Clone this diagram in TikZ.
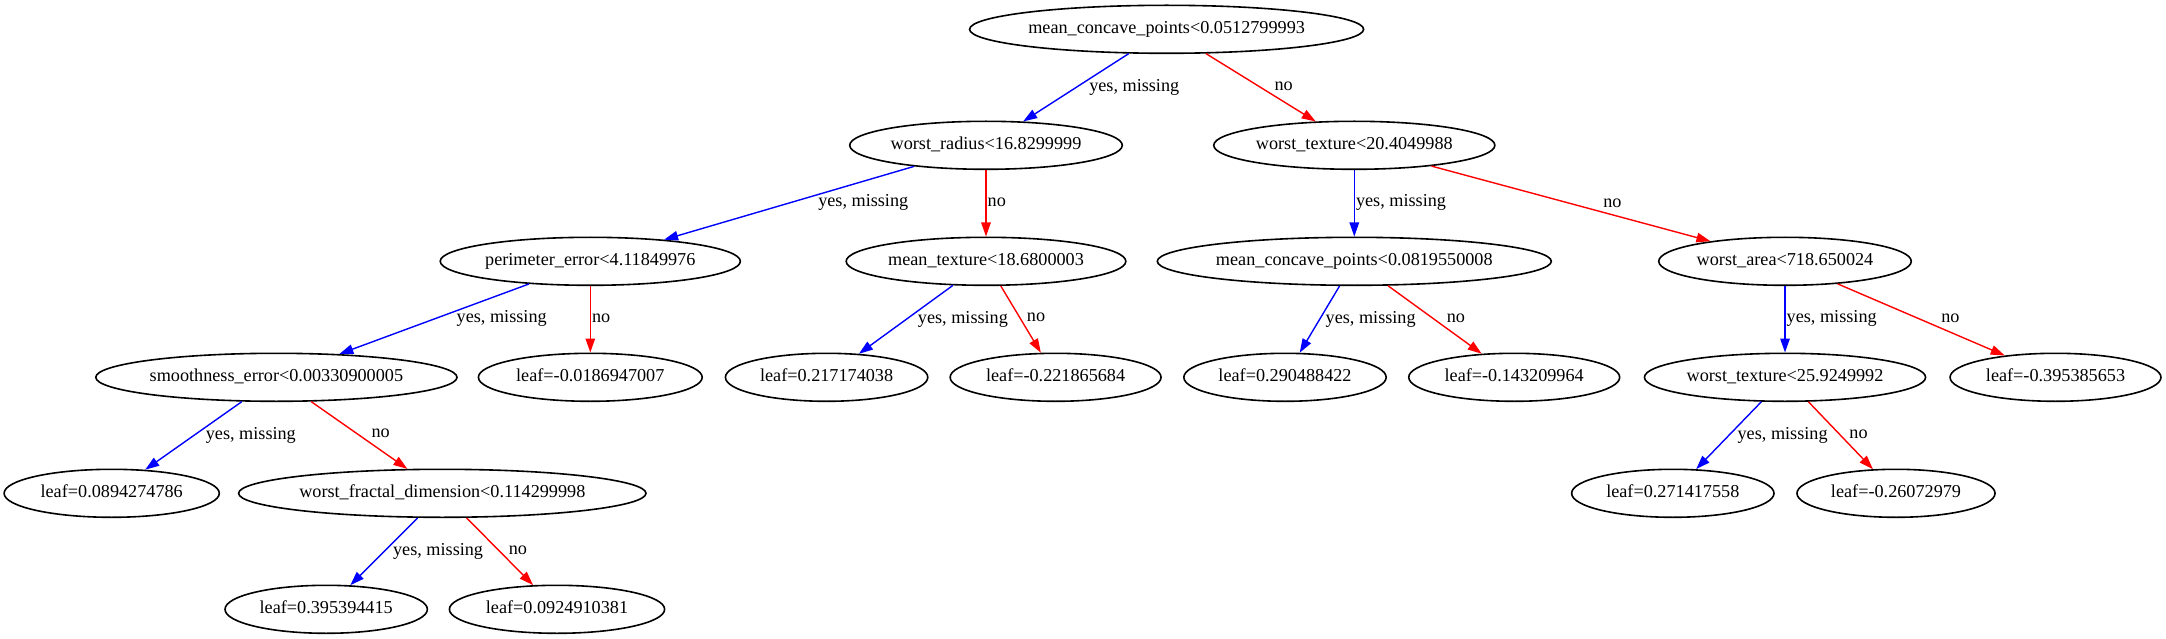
\documentclass[tikz,border=0pt]{standalone}
\usepackage{fontspec}
\setmainfont{Liberation Serif}
\usepackage{tikz}
\usetikzlibrary{arrows.meta, shapes.geometric}
\definecolor{yesblue}{RGB}{0,0,255}
\definecolor{nored}{RGB}{255,0,0}

\begin{document}
\begin{tikzpicture}[x=1pt, y=-1pt, font=\fontsize{18.2}{22}\selectfont,
  split/.style={draw, ellipse, line width=1.6pt, minimum height=48pt, inner xsep=1pt, inner ysep=2pt, text height=12.5pt, text depth=4pt},
  leafnode/.style={split, inner xsep=5pt},
  yesedge/.style={draw=yesblue, line width=1.4pt, -{Triangle[length=14pt, width=9.5pt]}},
  noedge/.style={draw=nored, line width=1.4pt, -{Triangle[length=14pt, width=9.5pt]}},
  lab/.style={auto, text=black, inner sep=1pt, text height=10pt, text depth=3pt},
  ylab/.style={lab, pos=0.39},
  nlab/.style={lab, pos=0.61}]
  \useasboundingbox (0,0) rectangle (2166,639);

  % splits
  \node[split] (root) at (1166.6, 29.3) {mean\_concave\_points<0.0512799993};
  \node[split] (wrad) at (986, 145.3) {worst\_radius<16.8299999};
  \node[split] (wtex) at (1354.3, 145.3) {worst\_texture<20.4049988};
  \node[split] (perr) at (590.3, 261.3) {perimeter\_error<4.11849976};
  \node[split] (mtex) at (986, 261.3) {mean\_texture<18.6800003};
  \node[split] (mcp) at (1354.3, 261.3) {mean\_concave\_points<0.0819550008};
  \node[split] (warea) at (1785, 261.3) {worst\_area<718.650024};
  \node[split] (smooth) at (276.4, 377.3) {smoothness\_error<0.00330900005};
  \node[split] (wtexb) at (1785, 377.3) {worst\_texture<25.9249992};
  \node[split] (wfrac) at (442.3, 493.3) {worst\_fractal\_dimension<0.114299998};

  % leaves
  \node[leafnode] (leafa) at (590.3, 377.3) {leaf=-0.0186947007};
  \node[leafnode] (leafb) at (826.6, 377.3) {leaf=0.217174038};
  \node[leafnode] (leafc) at (1055.6, 377.3) {leaf=-0.221865684};
  \node[leafnode] (leafd) at (1285, 377.3) {leaf=0.290488422};
  \node[leafnode] (leafe) at (1514.2, 377.3) {leaf=-0.143209964};
  \node[leafnode] (leaff) at (2055.5, 377.3) {leaf=-0.395385653};
  \node[leafnode] (leafg) at (111.7, 493.3) {leaf=0.0894274786};
  \node[leafnode] (leafh) at (1672.8, 493.3) {leaf=0.271417558};
  \node[leafnode] (leafi) at (1896, 493.3) {leaf=-0.26072979};
  \node[leafnode] (leafj) at (326.2, 609.3) {leaf=0.395394415};
  \node[leafnode] (leafk) at (557, 609.3) {leaf=0.0924910381};

  % branches
  \draw[yesedge] (root) -- (wrad) node[ylab] {yes, missing};
  \draw[noedge] (root) -- (wtex) node[nlab] {no};
  \draw[yesedge] (wrad) -- (perr) node[ylab] {yes, missing};
  \draw[noedge] (wrad) -- (mtex) node[lab, midway] {no};
  \draw[yesedge] (wtex) -- (mcp) node[lab, midway] {yes, missing};
  \draw[noedge] (wtex) -- (warea) node[nlab] {no};
  \draw[yesedge] (perr) -- (smooth) node[ylab] {yes, missing};
  \draw[noedge] (perr) -- (leafa) node[lab, midway] {no};
  \draw[yesedge] (mtex) -- (leafb) node[ylab] {yes, missing};
  \draw[noedge] (mtex) -- (leafc) node[nlab] {no};
  \draw[yesedge] (mcp) -- (leafd) node[ylab] {yes, missing};
  \draw[noedge] (mcp) -- (leafe) node[nlab] {no};
  \draw[yesedge] (warea) -- (wtexb) node[lab, midway] {yes, missing};
  \draw[noedge] (warea) -- (leaff) node[nlab] {no};
  \draw[yesedge] (smooth) -- (leafg) node[ylab] {yes, missing};
  \draw[noedge] (smooth) -- (wfrac) node[nlab] {no};
  \draw[yesedge] (wtexb) -- (leafh) node[ylab] {yes, missing};
  \draw[noedge] (wtexb) -- (leafi) node[nlab] {no};
  \draw[yesedge] (wfrac) -- (leafj) node[ylab] {yes, missing};
  \draw[noedge] (wfrac) -- (leafk) node[nlab] {no};
\end{tikzpicture}
\end{document}
